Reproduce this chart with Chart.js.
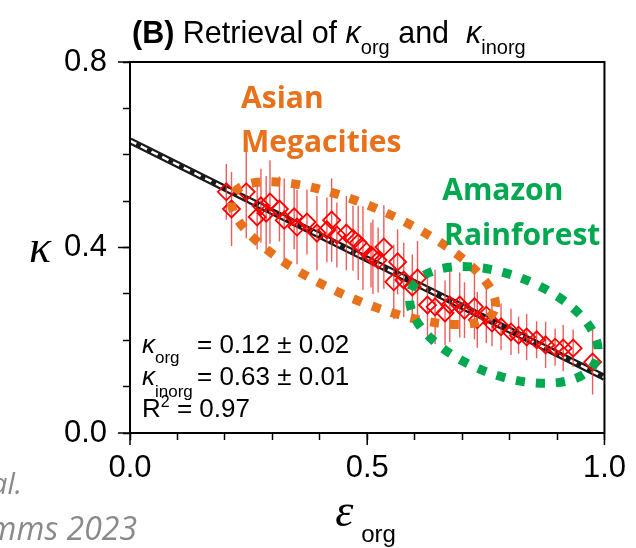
<!DOCTYPE html>
<html>
<head>
<meta charset="utf-8">
<script src="https://cdn.jsdelivr.net/npm/chart.js@4"></script>
<style>
  html, body { margin: 0; padding: 0; background: #fff; }
  #chart { display: block; }
</style>
</head>
<body>
<canvas id="chart" width="636" height="548"></canvas>
<script>
// Measured points: organic volume fraction vs hygroscopicity
const epsOrg = [0.203, 0.214, 0.245, 0.268, 0.276, 0.287, 0.295, 0.315, 0.325, 0.346,
                0.352, 0.373, 0.394, 0.415, 0.425, 0.436, 0.456, 0.470, 0.481, 0.491,
                0.508, 0.512, 0.523, 0.535, 0.556, 0.564, 0.577, 0.595, 0.606, 0.627,
                0.643, 0.664, 0.674, 0.695, 0.705, 0.726, 0.732, 0.751, 0.763, 0.782,
                0.803, 0.819, 0.836, 0.857, 0.876, 0.896, 0.913, 0.934, 0.975];
const kappa = [0.520, 0.483, 0.520, 0.466, 0.490, 0.474, 0.498, 0.483, 0.459, 0.466,
               0.444, 0.455, 0.431, 0.438, 0.459, 0.427, 0.431, 0.420, 0.410, 0.399,
               0.384, 0.380, 0.373, 0.401, 0.326, 0.369, 0.330, 0.315, 0.334, 0.276,
               0.272, 0.259, 0.276, 0.276, 0.265, 0.272, 0.244, 0.254, 0.237, 0.229,
               0.218, 0.211, 0.207, 0.201, 0.190, 0.185, 0.183, 0.183, 0.153];
const kappaErr = [0.06, 0.08, 0.10, 0.07, 0.08, 0.08, 0.09, 0.07, 0.09, 0.07,
                  0.08, 0.07, 0.08, 0.07, 0.09, 0.07, 0.08, 0.07, 0.08, 0.09,
                  0.07, 0.08, 0.07, 0.09, 0.08, 0.07, 0.08, 0.07, 0.08, 0.07,
                  0.08, 0.07, 0.08, 0.07, 0.06, 0.07, 0.06, 0.06, 0.05, 0.05,
                  0.05, 0.04, 0.05, 0.04, 0.05, 0.04, 0.05, 0.04, 0.07];

// linear fit: kappa = k_org*eps + k_inorg*(1-eps)
const fitEps = [0, 1];
const fitKappa = [0.63, 0.12];

const xMajor = [0, 0.5, 1];
const yMajor = [0, 0.4, 0.8];

// highlighted regions (centre in data units)
const asiaCentre = [0.492, 0.388];
const amazonCentre = [0.788, 0.233];

const ORANGE = '#e8711c';
const GREEN = '#00a850';
const SANS = '"Liberation Sans", Arial, sans-serif';
const BOLD_LABEL = '"Open Sans", sans-serif';

const isMajor = (v, list) => list.some(m => Math.abs(v - m) < 1e-6);

// draw a list of text runs one after another
function drawRuns(ctx, runs, x, y) {
    runs.forEach(r => {
        ctx.font = r.font;
        ctx.fillStyle = r.color || '#000';
        ctx.fillText(r.t, x, y + (r.dy || 0));
        x += ctx.measureText(r.t).width + (r.gap || 0);
    });
}

function dottedEllipse(ctx, cx, cy, a, b, angle, color) {
    ctx.save();
    ctx.strokeStyle = color;
    ctx.lineWidth = 9;
    ctx.setLineDash([9, 11]);
    ctx.beginPath();
    ctx.ellipse(cx, cy, a, b, angle * Math.PI / 180, 0, Math.PI * 2);
    ctx.stroke();
    ctx.restore();
}

const errorBars = {
    id: 'errorBars',
    beforeDatasetDraw(chart, args) {
        if (args.index !== 2) return;
        const { ctx, scales: { x, y } } = chart;
        ctx.save();
        ctx.strokeStyle = 'rgba(232,52,52,0.8)';
        ctx.lineWidth = 1.4;
        epsOrg.forEach((e, i) => {
            const px = x.getPixelForValue(e);
            ctx.beginPath();
            ctx.moveTo(px, y.getPixelForValue(kappa[i] - kappaErr[i]));
            ctx.lineTo(px, y.getPixelForValue(kappa[i] + kappaErr[i]));
            ctx.stroke();
        });
        ctx.restore();
    }
};

const decorations = {
    id: 'decorations',
    afterDatasetsDraw(chart) {
        const { ctx, scales: { x, y } } = chart;
        dottedEllipse(ctx, x.getPixelForValue(asiaCentre[0]), y.getPixelForValue(asiaCentre[1]), 143, 46, 23.8, ORANGE);
        dottedEllipse(ctx, x.getPixelForValue(amazonCentre[0]), y.getPixelForValue(amazonCentre[1]), 99, 50, 20.7, GREEN);

        ctx.save();
        ctx.textAlign = 'left';
        ctx.textBaseline = 'alphabetic';
        ctx.font = 'bold 30px ' + BOLD_LABEL;
        ctx.fillStyle = ORANGE;
        ctx.fillText('Asian', x.getPixelForValue(0.234), y.getPixelForValue(0.701));
        ctx.fillText('Megacities', x.getPixelForValue(0.234), y.getPixelForValue(0.606));
        ctx.fillStyle = GREEN;
        ctx.fillText('Amazon', x.getPixelForValue(0.658), y.getPixelForValue(0.502));
        ctx.fillText('Rainforest', x.getPixelForValue(0.662), y.getPixelForValue(0.405));
        ctx.restore();
    },
    afterDraw(chart) {
        const { ctx, chartArea: area, scales: { x, y } } = chart;
        ctx.save();
        // frame
        ctx.strokeStyle = '#000';
        ctx.lineWidth = 2;
        ctx.strokeRect(area.left, area.top, area.right - area.left, area.bottom - area.top);
        // longer major ticks
        ctx.lineWidth = 1.5;
        ctx.beginPath();
        xMajor.forEach(v => {
            const px = x.getPixelForValue(v);
            ctx.moveTo(px, area.bottom);
            ctx.lineTo(px, area.bottom + 12);
        });
        yMajor.forEach(v => {
            const py = y.getPixelForValue(v);
            ctx.moveTo(area.left, py);
            ctx.lineTo(area.left - 12, py);
        });
        ctx.stroke();

        ctx.textBaseline = 'alphabetic';
        ctx.textAlign = 'left';

        // title
        drawRuns(ctx, [
            { t: '(B)', font: 'bold 30.5px ' + SANS },
            { t: ' Retrieval of ', font: '30.5px ' + SANS },
            { t: 'κ', font: 'italic 30.5px ' + SANS },
            { t: 'org', font: '20px ' + SANS, dy: 11 },
            { t: ' and  ', font: '30.5px ' + SANS },
            { t: 'κ', font: 'italic 30.5px ' + SANS },
            { t: 'inorg', font: '20px ' + SANS, dy: 11 }
        ], 132, 43);

        // fit statistics
        const sx = area.left + 12;
        drawRuns(ctx, [{ t: 'κ', font: 'italic 26px ' + SANS }, { t: 'org', font: '17px ' + SANS, dy: 10 }], sx, 353);
        ctx.font = '26px ' + SANS;
        ctx.fillText('= 0.12 ± 0.02', sx + 55, 353);
        drawRuns(ctx, [{ t: 'κ', font: 'italic 26px ' + SANS }, { t: 'inorg', font: '17px ' + SANS, dy: 12 }], sx, 385);
        ctx.font = '26px ' + SANS;
        ctx.fillText('= 0.63 ± 0.01', sx + 55, 385);
        drawRuns(ctx, [
            { t: 'R', font: '26px ' + SANS },
            { t: '2', font: '16px ' + SANS, dy: -10 },
            { t: ' = 0.97', font: '26px ' + SANS }
        ], sx, 417);

        // axis titles
        ctx.font = 'italic 46px "Liberation Serif", serif';
        ctx.textAlign = 'center';
        ctx.fillText('κ', 40, 262);
        const midX = x.getPixelForValue(0.5);
        ctx.textAlign = 'left';
        ctx.font = 'italic 46px "Liberation Serif", serif';
        ctx.fillText('ε', midX - 32, 526);
        ctx.font = '24px ' + SANS;
        ctx.fillText('org', midX - 6, 542);

        // source note (cut at the canvas edge)
        ctx.fillStyle = '#8a8a8a';
        ctx.textAlign = 'right';
        ctx.font = 'italic 29px "Open Sans", sans-serif';
        ctx.fillText('et al.', 22, 494);
        ctx.font = 'italic 32px "Open Sans", sans-serif';
        ctx.fillText('Comms 2023', 137, 540);
        ctx.restore();
    }
};

const ctx = document.getElementById('chart').getContext('2d');
new Chart(ctx, {
    type: 'scatter',
    data: {
        datasets: [
            {
                type: 'line',
                data: fitEps.map((e, i) => ({ x: e, y: fitKappa[i] })),
                borderColor: '#1a1a1a',
                borderWidth: 7,
                pointRadius: 0,
                order: 3
            },
            {
                type: 'line',
                data: fitEps.map((e, i) => ({ x: e, y: fitKappa[i] })),
                borderColor: '#ffffff',
                borderWidth: 2.5,
                borderDash: [7, 5],
                pointRadius: 0,
                order: 2
            },
            {
                data: epsOrg.map((e, i) => ({ x: e, y: kappa[i] })),
                pointStyle: 'rectRot',
                pointRadius: 8.5,
                borderColor: '#ff0000',
                borderWidth: 1.8,
                backgroundColor: 'rgba(0,0,0,0)',
                order: 1
            }
        ]
    },
    options: {
        responsive: false,
        animation: false,
        devicePixelRatio: 1,
        layout: { padding: { top: 62, right: 24, left: 0, bottom: 0 } },
        plugins: { legend: { display: false }, tooltip: { enabled: false } },
        scales: {
            x: {
                type: 'linear',
                min: 0,
                max: 1,
                afterFit: s => { s.height = 115; },
                border: { display: true, color: '#000', width: 2 },
                grid: { drawOnChartArea: false, drawTicks: true, tickLength: 7, tickColor: '#000', tickWidth: 1.5 },
                ticks: {
                    stepSize: 0.1,
                    autoSkip: false,
                    maxRotation: 0,
                    padding: 10,
                    color: '#000',
                    font: { family: SANS, size: 31 },
                    callback: v => isMajor(v, xMajor) ? v.toFixed(1) : ''
                }
            },
            y: {
                type: 'linear',
                min: 0,
                max: 0.8,
                afterFit: s => { s.width = 130; },
                border: { display: true, color: '#000', width: 2 },
                grid: { drawOnChartArea: false, drawTicks: true, tickLength: 7, tickColor: '#000', tickWidth: 1.5 },
                ticks: {
                    stepSize: 0.1,
                    autoSkip: false,
                    padding: 16,
                    color: '#000',
                    font: { family: SANS, size: 31 },
                    callback: v => isMajor(v, yMajor) ? v.toFixed(1) : ''
                }
            }
        }
    },
    plugins: [errorBars, decorations]
});
</script>
</body>
</html>
